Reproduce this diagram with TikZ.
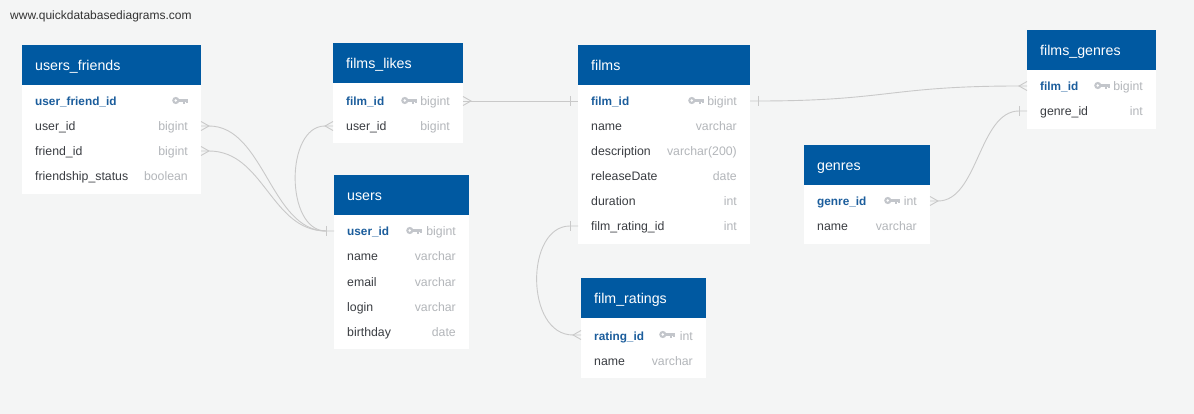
\documentclass[tikz,border=0pt]{standalone}
\usepackage{fontspec}
\setmainfont{Liberation Sans}
\usetikzlibrary{calc}
\definecolor{bg}{HTML}{F4F5F5}
\definecolor{hdr}{HTML}{0059A1}
\definecolor{pk}{HTML}{1B5D9C}
\definecolor{fld}{HTML}{3A3D42}
\definecolor{typ}{HTML}{B3B6BA}
\definecolor{keyc}{HTML}{C3C6CB}
\definecolor{lnc}{HTML}{C9C9C9}
\definecolor{wmc}{HTML}{333333}
\tikzset{
 hdrbox/.style={fill=hdr, draw=none, anchor=north west, inner sep=0},
 bodybox/.style={fill=white, draw=none, anchor=north west, inner sep=0},
 titletext/.style={anchor=base west, inner sep=0, text=white, font=\fontsize{14.2}{16}\selectfont},
 fname/.style={anchor=base west, inner sep=0, text=fld, font=\fontsize{12.3}{14}\selectfont},
 pkname/.style={anchor=base west, inner sep=0, text=pk, font=\fontsize{11.8}{14}\selectfont\bfseries},
 tname/.style={anchor=base east, inner sep=0, text=typ, font=\fontsize{12.3}{14}\selectfont},
 conn/.style={draw=lnc, line width=0.9pt},
}
% table: id, x, ytop, width, body height, title
\newcommand\mktable[6]{%
 \node[hdrbox, minimum width=#4, minimum height=40] (#1-h) at (#2,#3) {};
 \node[bodybox, minimum width=#4, minimum height=#5] (#1-b) at (#2,#3+40) {};
 \node[titletext] (#1-t) at ($(#1-h.west)+(13,5)$) {#6};
}
% field: id, xl, xr, y, name, type
\newcommand\mkfld[6]{%
 \node[fname] (#1-n) at (#2+13,#4+5) {#5};
 \node[tname] (#1-ty) at (#3-13,#4+5) {#6};
 \coordinate (#1-l) at (#2,#4);
 \coordinate (#1-r) at (#3,#4);
}
\newcommand\mkpk[6]{%
 \node[pkname] (#1-n) at (#2+13,#4+5) {#5};
 \node[tname] (#1-ty) at (#3-13,#4+5) {#6};
 \coordinate (#1-l) at (#2,#4);
 \coordinate (#1-r) at (#3,#4);
}
% key icon: right end x, centre y
\newcommand\keyicon[2]{%
 \fill[keyc] (#1-12.2,#2) circle (3.6pt);
 \fill[white] (#1-12.2,#2) circle (1.4pt);
 \fill[keyc] (#1-10,#2-1.6) rectangle (#1,#2+1.4);
 \fill[keyc] (#1-4.8,#2) rectangle (#1-2.9,#2+3.8);
 \fill[keyc] (#1-1.7,#2) rectangle (#1,#2+2.8);
}
\newcommand\crowR[1]{\draw[conn] ($(#1)+(0,-4.5)$) -- ($(#1)+(8,0)$) -- ($(#1)+(0,4.5)$);}
\newcommand\crowL[1]{\draw[conn] ($(#1)+(0,-4.5)$) -- ($(#1)+(-8,0)$) -- ($(#1)+(0,4.5)$);}
\newcommand\barR[1]{\draw[conn] ($(#1)+(8,-5)$) -- ++(0,10);}
\newcommand\barL[1]{\draw[conn] ($(#1)+(-8,-5)$) -- ++(0,10);}
\begin{document}
\begin{tikzpicture}[x=1pt,y=-1pt]
\useasboundingbox (0,0) rectangle (1194,414);
\fill[bg] (0,0) rectangle (1194,414);
\node[anchor=base west, inner sep=0, text=wmc, font=\fontsize{12}{14}\selectfont] (wm) at (10,20) {www.quickdatabasediagrams.com};

% users_friends
\mktable{uf}{22}{45}{179}{109}{users\_friends}
\mkpk{uf-ufid}{22}{201}{101}{user\_friend\_id}{}
\keyicon{188}{100.5}
\mkfld{uf-uid}{22}{201}{126}{user\_id}{bigint}
\mkfld{uf-fid}{22}{201}{151}{friend\_id}{bigint}
\mkfld{uf-fs}{22}{201}{176}{friendship\_status}{boolean}

% films_likes
\mktable{fl}{333}{43}{130}{60}{films\_likes}
\mkpk{fl-fid}{333}{463}{101}{film\_id}{bigint}
\keyicon{417}{100.5}
\mkfld{fl-uid}{333}{463}{126}{user\_id}{bigint}

% users
\mktable{us}{334}{175}{135}{134}{users}
\mkpk{us-uid}{334}{469}{231}{user\_id}{bigint}
\keyicon{422}{230.5}
\mkfld{us-name}{334}{469}{256}{name}{varchar}
\mkfld{us-email}{334}{469}{281}{email}{varchar}
\mkfld{us-login}{334}{469}{306}{login}{varchar}
\mkfld{us-bd}{334}{469}{331}{birthday}{date}

% films
\mktable{fi}{578}{45}{172}{159}{films}
\mkpk{fi-fid}{578}{750}{101}{film\_id}{bigint}
\keyicon{704}{100.5}
\mkfld{fi-name}{578}{750}{126}{name}{varchar}
\mkfld{fi-desc}{578}{750}{151}{description}{varchar(200)}
\mkfld{fi-rd}{578}{750}{176}{releaseDate}{date}
\mkfld{fi-dur}{578}{750}{201}{duration}{int}
\mkfld{fi-frid}{578}{750}{226}{film\_rating\_id}{int}

% film_ratings
\mktable{fr}{581}{278}{125}{60}{film\_ratings}
\mkpk{fr-rid}{581}{706}{335}{rating\_id}{int}
\keyicon{675}{334.5}
\mkfld{fr-name}{581}{706}{360}{name}{varchar}

% genres
\mktable{ge}{804}{145}{126}{59}{genres}
\mkpk{ge-gid}{804}{930}{201}{genre\_id}{int}
\keyicon{900}{200.5}
\mkfld{ge-name}{804}{930}{226}{name}{varchar}

% films_genres
\mktable{fg}{1027}{30}{129}{59}{films\_genres}
\mkpk{fg-fid}{1027}{1156}{86}{film\_id}{bigint}
\keyicon{1110}{85.5}
\mkfld{fg-gid}{1027}{1156}{111}{genre\_id}{int}

% connectors
\crowR{uf-uid-r}
\draw[conn] (uf-uid-r) -- ++(8,0) .. controls +(55,0) and +(-55,0) .. ($(us-uid-l)+(-8,0)$) -- (us-uid-l);
\crowR{uf-fid-r}
\draw[conn] (uf-fid-r) -- ++(8,0) .. controls +(55,0) and +(-55,0) .. ($(us-uid-l)+(-8,0)$);
\crowL{fl-uid-l}
\draw[conn] (fl-uid-l) -- ++(-8,0) .. controls +(-40,0) and +(-41,0) .. ($(us-uid-l)+(-8,0)$);
\barL{us-uid-l}

\crowR{fl-fid-r}
\draw[conn] (fl-fid-r) -- (fi-fid-l);
\barL{fi-fid-l}

\barR{fi-fid-r}
\draw[conn] (fi-fid-r) -- ++(8,0) .. controls +(130,0) and +(-130,0) .. ($(fg-fid-l)+(-8,0)$) -- (fg-fid-l);
\crowL{fg-fid-l}

\barL{fi-frid-l}
\draw[conn] (fi-frid-l) -- ++(-8,0) .. controls +(-45,0) and +(-48,0) .. ($(fr-rid-l)+(-8,0)$) -- (fr-rid-l);
\crowL{fr-rid-l}

\crowR{ge-gid-r}
\draw[conn] (ge-gid-r) -- ++(8,0) .. controls +(40,0) and +(-40,0) .. ($(fg-gid-l)+(-8,0)$) -- (fg-gid-l);
\barL{fg-gid-l}
\end{tikzpicture}
\end{document}
